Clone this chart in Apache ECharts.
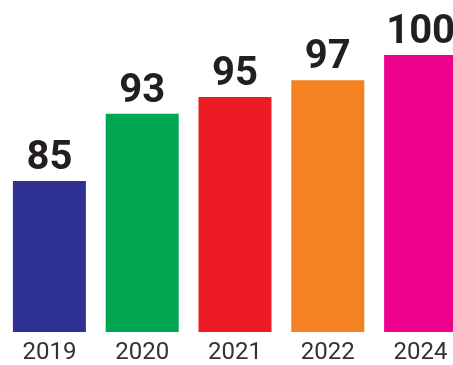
<!DOCTYPE html>
<html>
<head>
<meta charset="utf-8">
<script src="https://cdn.jsdelivr.net/npm/echarts@6/dist/echarts.min.js"></script>
<style>
  html, body { margin: 0; padding: 0; background: #fff; }
  #chart { width: 453px; height: 365px; }
</style>
</head>
<body>
<div id="chart"></div>
<script>
// data
const years = ['2019', '2020', '2021', '2022', '2024']
const values = [85, 93, 95, 97, 100]
const colors = ['#2e3192', '#00a651', '#ed1c24', '#f58220', '#ec008c']

const chart = echarts.init(document.getElementById('chart'))

chart.setOption({
  animation: false,
  grid: { left: 3, right: -14, top: 55, bottom: 33, outerBoundsMode: 'none', containLabel: false },
  xAxis: {
    type: 'category',
    data: years,
    axisLine: { show: false },
    axisTick: { show: false },
    axisLabel: {
      margin: 9,
      fontFamily: 'Roboto',
      fontSize: 24,
      color: '#333333'
    }
  },
  yAxis: {
    type: 'value',
    min: 67,
    max: 100,
    show: false,
    splitLine: { show: false }
  },
  series: [{
    type: 'bar',
    barWidth: 73,
    data: values.map((v, i) => ({ value: v, itemStyle: { color: colors[i] } })),
    label: {
      show: true,
      position: 'top',
      distance: 2,
      fontFamily: 'Roboto',
      fontWeight: 'bold',
      fontSize: 40,
      color: '#231f20'
    }
  }]
})
</script>
</body>
</html>
